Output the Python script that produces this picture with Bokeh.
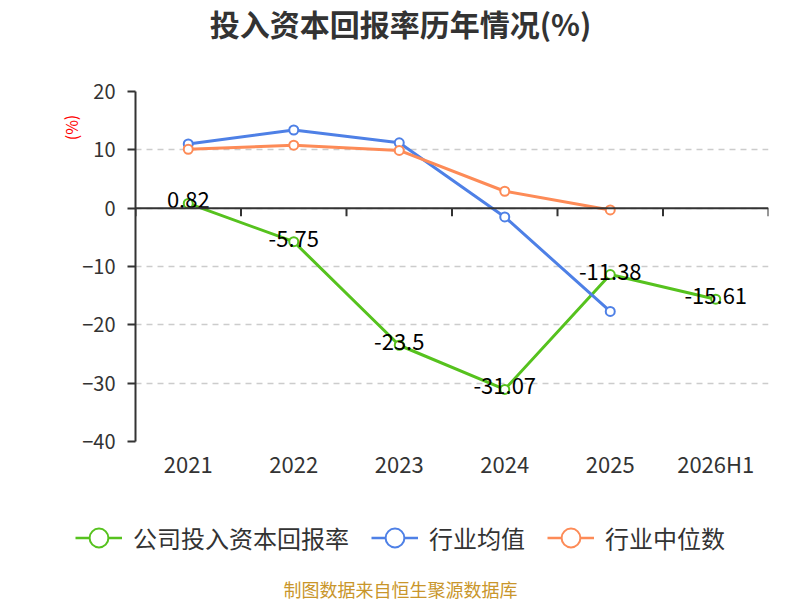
from bokeh.plotting import figure
from bokeh.models import (Range1d, FixedTicker, Span, Label, Legend, LegendItem,
                          ColumnDataSource)
from bokeh.core.properties import value
from bokeh.embed import file_html
from bokeh.resources import INLINE

# ---- data ----
years = ["2021", "2022", "2023", "2024", "2025", "2026H1"]
company = [0.82, -5.75, -23.5, -31.07, -11.38, -15.61]
industry_avg = [11.0, 13.4, 11.2, -1.5, -17.7]
industry_median = [10.1, 10.8, 9.9, 2.9, -0.3]
y_ticks = [-40, -30, -20, -10, 0, 10, 20]

title_text = "投入资本回报率历年情况(%)"
unit_text = "(%)"
series_names = ["公司投入资本回报率", "行业均值", "行业中位数"]
colors = ["#56c21e", "#4e80e6", "#fd8b57"]
footer_text = "制图数据来自恒生聚源数据库"

FONT = "Noto Sans CJK SC"

FW, FH = 633, 350
ML, MR, MT, MB = 135, 32, 91, 44
W = ML + FW + MR
H2 = 115

ymin, ymax = y_ticks[0], y_ticks[-1]
p = figure(frame_width=FW, frame_height=FH, output_backend="svg",
           toolbar_location=None,
           x_range=Range1d(0, len(years)), y_range=Range1d(ymin, ymax),
           min_border_left=ML, min_border_right=MR, min_border_top=MT,
           min_border_bottom=MB)
p.outline_line_color = None

# axes
xpos = [i + 0.5 for i in range(len(years))]
p.xaxis.ticker = FixedTicker(ticks=xpos)
p.xaxis.major_label_overrides = {x: y for x, y in zip(xpos, years)}
p.xaxis.axis_line_color = None
p.xaxis.major_tick_line_color = None
p.xaxis.major_tick_out = 0
p.xaxis.major_tick_in = 0
p.xaxis.minor_tick_line_color = None
p.xaxis.major_label_text_font = FONT
p.xaxis.major_label_text_font_size = "22px"
p.xaxis.major_label_text_color = "#333333"
p.xaxis.major_label_standoff = 5

p.yaxis.ticker = FixedTicker(ticks=y_ticks)
p.yaxis.axis_line_color = "#333333"
p.yaxis.axis_line_width = 2
p.yaxis.major_tick_line_color = "#333333"
p.yaxis.major_tick_line_width = 2
p.yaxis.major_tick_out = 8
p.yaxis.major_tick_in = 0
p.yaxis.minor_tick_line_color = None
p.yaxis.major_label_text_font = FONT
p.yaxis.major_label_text_font_size = "20px"
p.yaxis.major_label_text_color = "#333333"
p.yaxis.major_label_standoff = 12

p.xgrid.grid_line_color = None
p.ygrid.grid_line_color = "#cccccc"
p.ygrid.grid_line_dash = "6 5"
p.ygrid.grid_line_width = 1.5

# zero axis line with category-boundary ticks
p.add_layout(Span(location=0, dimension="width", line_color="#333333", line_width=2))
tick_units = 8 * (ymax - ymin) / FH
bounds = list(range(len(years) + 1))
p.segment(x0=bounds, y0=[0] * len(bounds), x1=bounds, y1=[-tick_units] * len(bounds),
          line_color="#333333", line_width=2)

# series
all_series = [company, industry_avg, industry_median]
for vals, col in zip(all_series, colors):
    xs = xpos[:len(vals)]
    p.line(xs, vals, line_color=col, line_width=3)
    p.scatter(xs, vals, size=9, marker="circle", fill_color="white",
              line_color=col, line_width=2)

# data labels for company series
src = ColumnDataSource(dict(x=xpos, y=company, t=[f"{v:g}" for v in company]))
p.text(x="x", y="y", text="t", source=src, text_align="center",
       text_baseline="middle", y_offset=-3, text_color="black",
       text_font=value(FONT), text_font_size="22px")

# title in the top panel, unit in the left panel (side panels are not clipped)
p.add_layout(Label(x=265, y=69, x_units="screen", y_units="screen",
                   text=title_text, text_align="center", text_baseline="middle",
                   text_font=FONT, text_font_size="30px", text_font_style="bold",
                   text_color="#333333"), "above")
p.add_layout(Label(x=15, y=314, x_units="screen", y_units="screen",
                   text=unit_text, angle=1.5708, text_align="center",
                   text_baseline="middle", text_font=FONT, text_font_size="16px",
                   text_color="#ff0000"), "left")

# ---- bottom strip: legend and footer (its frame fills the whole strip) ----
p2 = figure(width=W, height=H2, output_backend="svg", toolbar_location=None,
            x_range=Range1d(0, len(years)), y_range=Range1d(1000, 1001),
            min_border=0)
p2.axis.visible = False
p2.grid.visible = False
p2.outline_line_color = None

items = []
for name, vals, col in zip(series_names, all_series, colors):
    xs = xpos[:len(vals)]
    lr = p2.line(xs, vals, line_color=col, line_width=2.5)
    sr = p2.scatter(xs, vals, marker="circle", size=9, fill_color="white",
                    line_color=col, line_width=2)
    items.append(LegendItem(label=name, renderers=[lr, sr]))

legend = Legend(items=items, orientation="horizontal", location=(75, 35.5),
                glyph_width=47, glyph_height=55, label_standoff=11, spacing=22,
                padding=0, margin=0, border_line_color=None,
                background_fill_alpha=0, label_text_font=FONT,
                label_text_font_size="24px", label_text_color="#333333",
                label_height=55)
p2.add_layout(legend)

p2.add_layout(Label(x=400, y=12, x_units="screen", y_units="screen",
                    text=footer_text, text_align="center", text_baseline="middle",
                    text_font=FONT, text_font_size="18px", text_color="#c9962b"))

open("out.html", "w").write(file_html([p, p2], INLINE))
